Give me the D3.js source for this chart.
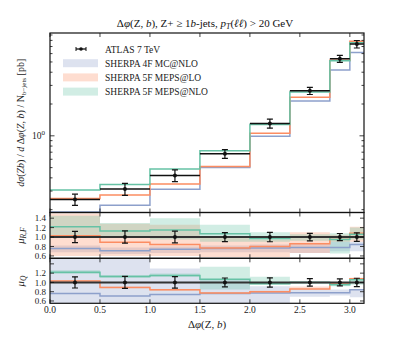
<!DOCTYPE html>
<html><head><meta charset="utf-8">
<script src="https://cdn.jsdelivr.net/npm/d3@7"></script>
<style>
html,body{margin:0;padding:0;background:#fff;}
svg{display:block;font-family:"Liberation Serif","DejaVu Serif",serif;}
</style></head>
<body><svg id="c" width="405" height="337"></svg>
<script>
// ---------- data ----------
const binEdges = [0, 0.5, 1.0, 1.5, 2.0, 2.4, 2.8, 3.0, Math.PI];
const dataX = [0.25, 0.75, 1.25, 1.75, 2.2, 2.6, 2.9, 3.07];
const dataY = [0.25, 0.314, 0.422, 0.676, 1.31, 2.67, 5.36, 7.38];
const dataErr = [0.03, 0.041, 0.053, 0.064, 0.13, 0.21, 0.40, 0.60];

const sherpa4F = [0.19, 0.220, 0.312, 0.50, 0.99, 2.14, 4.2, 6.16];
const sherpa5FLO = [0.255, 0.276, 0.35, 0.513, 1.06, 2.32, 5.2, 7.87];
const sherpa5FNLO = [0.307, 0.347, 0.485, 0.722, 1.28, 2.6, 5.13, 7.6];

const ratio4F = [0.76, 0.71, 0.74, 0.76, 0.77, 0.78, 0.78, 0.84];
const ratio5FLO = [1.03, 0.89, 0.84, 0.77, 0.80, 0.86, 0.99, 1.08];
const ratio5FNLO = [1.22, 1.13, 1.15, 1.07, 0.97, 1.00, 0.95, 1.06];
const dataRelErr = [0.12, 0.13, 0.125, 0.095, 0.10, 0.08, 0.075, 0.09];

// mu_R,F bands
const rf4FLo = [0.68, 0.64, 0.66, 0.68, 0.68, 0.66, 0.70, 0.70];
const rf4FHi = [0.82, 0.78, 0.80, 0.82, 0.84, 0.86, 0.90, 0.90];
const rfLOLo = [0.60, 0.60, 0.60, 0.58, 0.58, 0.66, 0.90, 0.90];
const rfLOHi = [1.50, 1.28, 1.26, 1.00, 0.95, 1.10, 1.05, 1.22];
const rfNLOLo = [1.00, 0.98, 0.95, 0.90, 0.90, 0.92, 0.65, 0.95];
const rfNLOHi = [1.45, 1.30, 1.40, 1.26, 1.10, 1.06, 1.08, 1.20];
// mu_Q bands
const q4FLo = [0.50, 0.50, 0.50, 0.50, 0.50, 0.69, 0.72, 0.68];
const q4FHi = [1.60, 1.60, 1.30, 1.05, 0.92, 0.87, 0.85, 0.85];
const qLOLo = [1.02, 0.88, 0.82, 0.76, 0.78, 0.87, 0.96, 1.06];
const qLOHi = [1.05, 0.91, 0.86, 0.79, 0.82, 0.91, 1.00, 1.10];
const qNLOLo = [1.18, 1.10, 1.12, 0.85, 0.95, 0.97, 0.92, 0.95];
const qNLOHi = [1.26, 1.16, 1.19, 1.34, 1.12, 1.03, 1.00, 1.08];

const xTicks = [0.0, 0.5, 1.0, 1.5, 2.0, 2.5, 3.0];
const rfTicks = [0.6, 0.8, 1.0, 1.2, 1.4];
const qTickLabels = [0.6, 0.8, 1.0, 1.2];
const logMinor = [0.2,0.3,0.4,0.5,0.6,0.7,0.8,0.9,2,3,4,5,6,7,8,9];

const cBlue = "#8da0cb", cOrange = "#fc8d62", cGreen = "#66c2a5";

// ---------- layout ----------
const L = 50, R = 364;
const mainTop = 33, mainBot = 212.5, r1Bot = 258.3, r2Bot = 303.3;
const svg = d3.select("#c");
const x = d3.scaleLinear().domain([0, Math.PI]).range([L, R]);
const yMain = d3.scaleLog().domain([0.188, 9.4]).range([mainBot, mainTop]);
const yR1 = d3.scaleLinear().domain([0.55, 1.52]).range([r1Bot, mainBot]);
const yR2 = d3.scaleLinear().domain([0.55, 1.52]).range([r2Bot, r1Bot]);

function clip(id, y0, y1){
  svg.append("clipPath").attr("id", id).append("rect")
    .attr("x", L).attr("y", y0).attr("width", R - L).attr("height", y1 - y0);
}
clip("cm", mainTop, mainBot); clip("c1", mainBot, r1Bot); clip("c2", r1Bot, r2Bot);

function stepPts(vals){
  const p = vals.map((v, i) => [binEdges[i], v]);
  p.push([binEdges[binEdges.length - 1], vals[vals.length - 1]]);
  return p;
}
function stepLine(g, y, vals, color, w){
  g.append("path").attr("d", d3.line().x(d => x(d[0])).y(d => y(d[1])).curve(d3.curveStepAfter)(stepPts(vals)))
    .attr("fill", "none").attr("stroke", color).attr("stroke-width", w || 1.5);
}
function band(g, y, lo, hi, color, op){
  const pl = stepPts(lo), ph = stepPts(hi);
  const pts = pl.map((d, i) => [d[0], d[1], ph[i][1]]);
  g.append("path").attr("d", d3.area().x(d => x(d[0])).y0(d => y(d[1])).y1(d => y(d[2])).curve(d3.curveStepAfter)(pts))
    .attr("fill", color).attr("fill-opacity", op || 0.3).attr("stroke", "none");
}

// ---------- main panel ----------
const gm = svg.append("g").attr("clip-path", "url(#cm)");
stepLine(gm, yMain, sherpa4F, cBlue);
stepLine(gm, yMain, sherpa5FLO, cOrange);
stepLine(gm, yMain, sherpa5FNLO, cGreen);
function dataMarks(g, y, vals, errs){
  vals.forEach((v, i) => {
    g.append("line").attr("x1", x(binEdges[i])).attr("x2", x(binEdges[i + 1]))
      .attr("y1", y(v)).attr("y2", y(v)).attr("stroke", "#111").attr("stroke-width", 1.5);
    const yt = y(v + errs[i]), yb = y(v - errs[i]), cx = x(dataX[i]);
    g.append("line").attr("x1", cx).attr("x2", cx).attr("y1", yt).attr("y2", yb).attr("stroke", "#111").attr("stroke-width", 1.2);
    [yt, yb].forEach(yy => g.append("line").attr("x1", cx - 3).attr("x2", cx + 3).attr("y1", yy).attr("y2", yy).attr("stroke", "#111").attr("stroke-width", 1.2));
    g.append("circle").attr("cx", cx).attr("cy", y(v)).attr("r", 2).attr("fill", "#111");
  });
}
dataMarks(gm, yMain, dataY, dataErr);

// ---------- ratio panels ----------
function ratioPanel(clipId, y, b4lo, b4hi, bLOlo, bLOhi, bNLOlo, bNLOhi){
  const g = svg.append("g").attr("clip-path", "url(#" + clipId + ")");
  band(g, y, b4lo, b4hi, cBlue, 0.3);
  band(g, y, bLOlo, bLOhi, cOrange, 0.3);
  band(g, y, bNLOlo, bNLOhi, cGreen, 0.3);
  stepLine(g, y, ratio4F, cBlue);
  stepLine(g, y, ratio5FLO, cOrange);
  stepLine(g, y, ratio5FNLO, cGreen);
  g.append("line").attr("x1", L).attr("x2", R).attr("y1", y(1)).attr("y2", y(1)).attr("stroke", "#333").attr("stroke-width", 2);
  dataRelErr.forEach((e, i) => {
    const cx = x(dataX[i]), yt = y(1 + e), yb = y(1 - e);
    g.append("line").attr("x1", cx).attr("x2", cx).attr("y1", yt).attr("y2", yb).attr("stroke", "#111").attr("stroke-width", 1.2);
    [yt, yb].forEach(yy => g.append("line").attr("x1", cx - 3).attr("x2", cx + 3).attr("y1", yy).attr("y2", yy).attr("stroke", "#111").attr("stroke-width", 1.2));
    g.append("circle").attr("cx", cx).attr("cy", y(1)).attr("r", 2).attr("fill", "#111");
  });
}
ratioPanel("c1", yR1, rf4FLo, rf4FHi, rfLOLo, rfLOHi, rfNLOLo, rfNLOHi);
ratioPanel("c2", yR2, q4FLo, q4FHi, qLOLo, qLOHi, qNLOLo, qNLOHi);

// ---------- axes / frames ----------
const axG = svg.append("g").attr("stroke", "#111");
function frame(y0, y1){
  axG.append("rect").attr("x", L).attr("y", y0).attr("width", R - L).attr("height", y1 - y0)
    .attr("fill", "none").attr("stroke-width", 1.2);
  xTicks.forEach(t => {
    axG.append("line").attr("x1", x(t)).attr("x2", x(t)).attr("y1", y0).attr("y2", y0 + 4).attr("stroke-width", 0.8);
    axG.append("line").attr("x1", x(t)).attr("x2", x(t)).attr("y1", y1).attr("y2", y1 - 4).attr("stroke-width", 0.8);
  });
}
frame(mainTop, mainBot); frame(mainBot, r1Bot); frame(r1Bot, r2Bot);

function yTick(yy, len){
  axG.append("line").attr("x1", L).attr("x2", L + len).attr("y1", yy).attr("y2", yy).attr("stroke-width", 0.8);
  axG.append("line").attr("x1", R).attr("x2", R - len).attr("y1", yy).attr("y2", yy).attr("stroke-width", 0.8);
}
yTick(yMain(1), 4.5);
logMinor.forEach(v => yTick(yMain(v), 2.5));
[0.6, 0.8, 1.0, 1.2, 1.4].forEach(v => { yTick(yR1(v), 4); yTick(yR2(v), 4); });

const txt = svg.append("g").attr("fill", "#222");
// x tick labels
xTicks.forEach(t => txt.append("text").attr("x", x(t)).attr("y", r2Bot + 10).attr("text-anchor", "middle")
  .attr("font-size", 9.5).text(d3.format(".1f")(t)));
// main y label 10^0
const t10 = txt.append("text").attr("x", 45).attr("y", yMain(1) + 3.5).attr("text-anchor", "end").attr("font-size", 9.5);
t10.append("tspan").text("10");
t10.append("tspan").attr("dy", -4).attr("font-size", 7).text("0");
// ratio tick labels
rfTicks.forEach(v => txt.append("text").attr("x", 46).attr("y", yR1(v) + 3.2).attr("text-anchor", "end").attr("font-size", 9).text(d3.format(".1f")(v)));
qTickLabels.forEach(v => txt.append("text").attr("x", 46).attr("y", yR2(v) + 3.2).attr("text-anchor", "end").attr("font-size", 9).text(d3.format(".1f")(v)));

// x label
const xl = txt.append("text").attr("x", (L + R) / 2).attr("y", 328).attr("text-anchor", "middle").attr("font-size", 11);
xl.append("tspan").text("Δ");
xl.append("tspan").attr("font-style", "italic").text("φ");
xl.append("tspan").text("(Z, ");
xl.append("tspan").attr("font-style", "italic").text("b");
xl.append("tspan").text(")");

// title
const tt = svg.append("text").attr("x", 205).attr("y", 27).attr("text-anchor", "middle").attr("font-size", 11).attr("fill", "#111");
tt.append("tspan").text("Δ");
tt.append("tspan").attr("font-style", "italic").text("φ");
tt.append("tspan").text("(Z, ");
tt.append("tspan").attr("font-style", "italic").text("b");
tt.append("tspan").text("), Z+ ≥ 1");
tt.append("tspan").attr("font-style", "italic").text("b");
tt.append("tspan").text("-jets, ");
tt.append("tspan").attr("font-style", "italic").text("p");
tt.append("tspan").attr("font-style", "italic").attr("font-size", 8).attr("dy", 2).text("T");
tt.append("tspan").attr("dy", -2).text("(");
tt.append("tspan").attr("font-style", "italic").text("ℓℓ");
tt.append("tspan").text(") > 20 GeV");

// y label main
const yl = txt.append("text").attr("transform", "translate(24," + ((mainTop + mainBot) / 2) + ") rotate(-90)")
  .attr("text-anchor", "middle").attr("font-size", 10);
yl.append("tspan").attr("font-style", "italic").text("dσ");
yl.append("tspan").text("(");
yl.append("tspan").attr("font-style", "italic").text("Zb");
yl.append("tspan").text(") / ");
yl.append("tspan").attr("font-style", "italic").text("d");
yl.append("tspan").text(" Δ");
yl.append("tspan").attr("font-style", "italic").text("φ");
yl.append("tspan").text("(");
yl.append("tspan").attr("font-style", "italic").text("Z, b");
yl.append("tspan").text(") / N");
yl.append("tspan").attr("font-size", 7).attr("dy", 2).text("b−jets");
yl.append("tspan").attr("dy", -2).text(" [pb]");

// ratio labels
const r1l = txt.append("text").attr("transform", "translate(24," + yR1(1.03) + ") rotate(-90)").attr("text-anchor", "middle").attr("font-size", 10.5);
r1l.append("tspan").attr("font-style", "italic").text("μ");
r1l.append("tspan").attr("font-style", "italic").attr("font-size", 7.5).attr("dy", 2).text("R,F");
const r2l = txt.append("text").attr("transform", "translate(24," + yR2(1.03) + ") rotate(-90)").attr("text-anchor", "middle").attr("font-size", 10.5);
r2l.append("tspan").attr("font-style", "italic").text("μ");
r2l.append("tspan").attr("font-style", "italic").attr("font-size", 7.5).attr("dy", 2).text("Q");

// ---------- legend ----------
const legendLabels = ["ATLAS 7 TeV", "SHERPA 4F MC@NLO", "SHERPA 5F MEPS@LO", "SHERPA 5F MEPS@NLO"];
const legendColors = [null, cBlue, cOrange, cGreen];
const lg = svg.append("g");
legendLabels.forEach((lab, i) => {
  const yy = 49 + i * 14.2;
  if (i === 0) {
    lg.append("line").attr("x1", 76).attr("x2", 86).attr("y1", yy).attr("y2", yy).attr("stroke", "#111").attr("stroke-width", 1.3);
    [76, 86].forEach(xx => lg.append("line").attr("x1", xx).attr("x2", xx).attr("y1", yy - 2).attr("y2", yy + 2).attr("stroke", "#111").attr("stroke-width", 1));
    lg.append("circle").attr("cx", 81).attr("cy", yy).attr("r", 1.8).attr("fill", "#111");
  } else {
    lg.append("rect").attr("x", 63).attr("y", yy - 4).attr("width", 35).attr("height", 8)
      .attr("fill", legendColors[i]).attr("fill-opacity", 0.3);
  }
  lg.append("text").attr("x", 105).attr("y", yy + 3.5).attr("font-size", 9.5).attr("fill", "#222").text(lab);
});
</script></body></html>
